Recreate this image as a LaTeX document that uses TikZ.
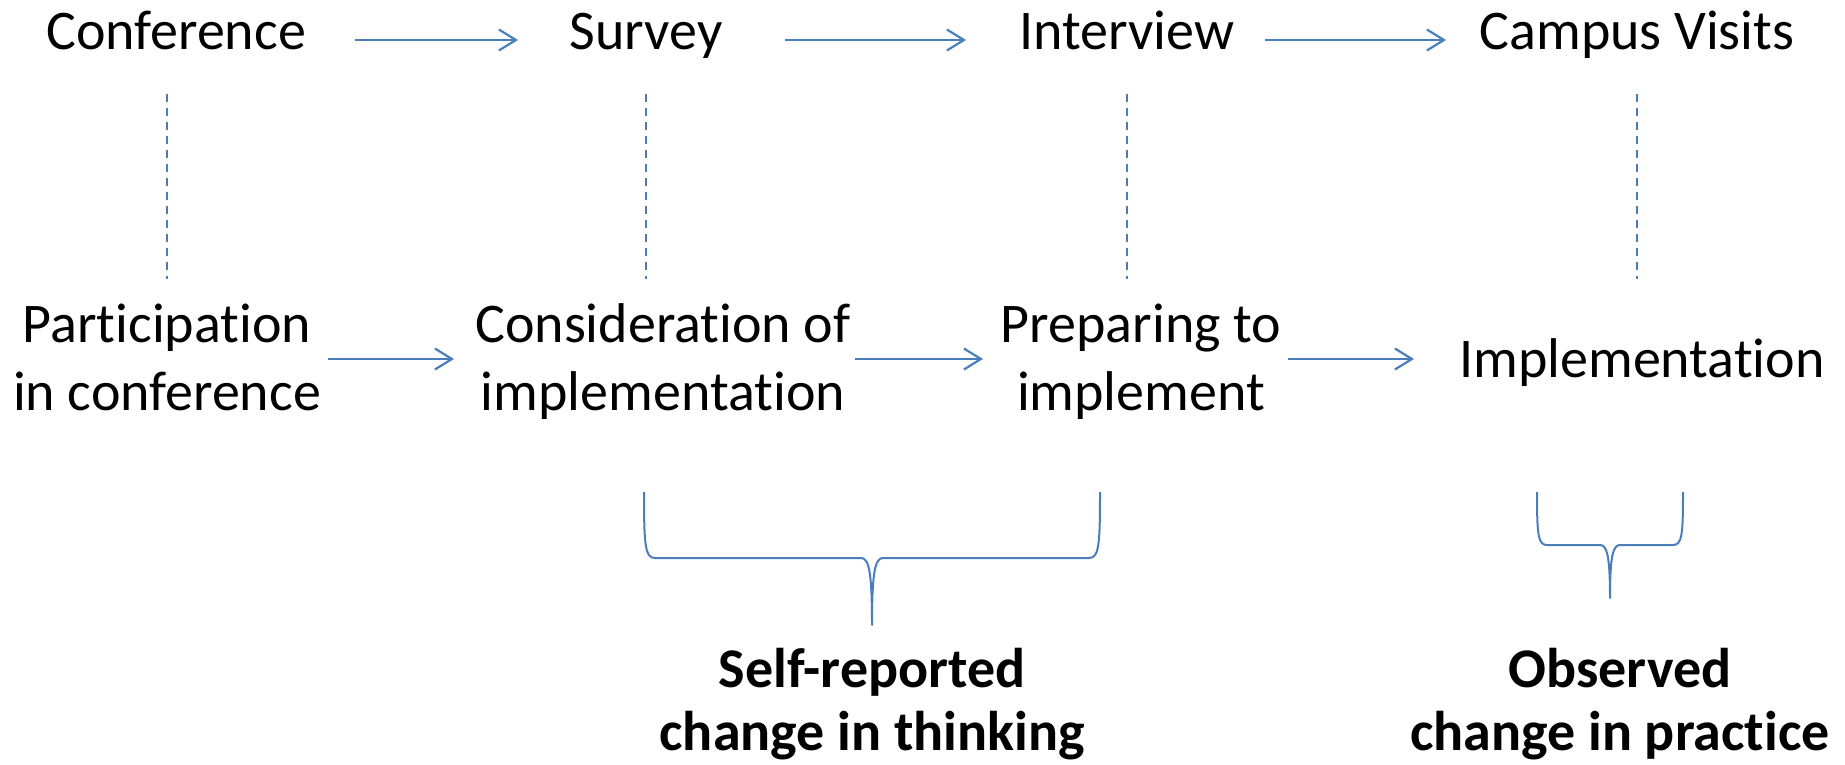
\documentclass[tikz,border=0pt]{standalone}
\usepackage{fontspec}
\setmainfont{Carlito}[Ligatures=CommonOff]
\usetikzlibrary{arrows.meta}
\definecolor{lineblue}{RGB}{74,126,187}
\tikzset{
  lbl/.style={anchor=base, inner sep=0pt, align=center, font=\fontsize{56}{68}\selectfont},
  boldlbl/.style={anchor=base, inner sep=0pt, align=center, font=\fontsize{56}{63}\selectfont\bfseries},
  arr/.style={draw=lineblue, line width=2.2pt, -{Straight Barb[length=17pt,width=21pt,line width=2.2pt]}},
  guide/.style={draw=lineblue, line width=2.2pt, dash pattern=on 8pt off 6pt},
  bracepath/.style={draw=lineblue, line width=2pt, line join=round}
}
\begin{document}
\begin{tikzpicture}[x=1pt, y=-1pt]
\useasboundingbox (0,0) rectangle (1845,765);
% top row
\node[lbl] (conf) at (176,50) {Conference};
\node[lbl] (survey) at (646,50) {Survey};
\node[lbl] (interview) at (1127,50) {Interview};
\node[lbl] (campus) at (1637,50) {Campus Visits};
% bottom row (base = last line)
\node[lbl] (part) at (167,410) {Participation\\in conference};
\node[lbl] (consid) at (663,410) {Consideration of\\implementation};
\node[lbl] (prep) at (1141,410) {Preparing to\\implement};
\node[lbl] (impl) at (1642,377) {Implementation};
% labels
\node[boldlbl] (selfrep) at (872,750) {Self-reported\\change in thinking};
\node[boldlbl] (observed) at (1620,750) {Observed\\change in practice};
% top arrows
\draw[arr] ([xshift=179pt,yshift=10pt]conf.base) -- ([xshift=-128pt,yshift=10pt]survey.base);
\draw[arr] ([xshift=139pt,yshift=10pt]survey.base) -- ([xshift=-161pt,yshift=10pt]interview.base);
\draw[arr] ([xshift=138pt,yshift=10pt]interview.base) -- ([xshift=-191pt,yshift=10pt]campus.base);
% bottom arrows
\draw[arr] ([xshift=161pt,yshift=51pt]part.base) -- ([xshift=-209pt,yshift=51pt]consid.base);
\draw[arr] ([xshift=192pt,yshift=51pt]consid.base) -- ([xshift=-158pt,yshift=51pt]prep.base);
\draw[arr] ([xshift=147pt,yshift=51pt]prep.base) -- ([xshift=-228pt,yshift=18pt]impl.base);
% dashed guides
\draw[guide] ([yshift=-44pt]conf.base -| part.base) -- ([yshift=131pt]part.base);
\draw[guide] ([yshift=-44pt]survey.base) -- ([yshift=131pt]consid.base -| survey.base);
\draw[guide] ([yshift=-44pt]interview.base) -- ([yshift=131pt]prep.base -| interview.base);
\draw[guide] ([yshift=-44pt]campus.base) -- ([yshift=98pt]impl.base -| campus.base);
% brace 1
\coordinate (tip1) at (872,625);
\draw[bracepath] (644,492) .. controls (644,545) and (645,558) .. (655,558)
  -- (861,558) .. controls (869,558) and (872,572) .. (tip1)
  .. controls (872,572) and (875,558) .. (883,558)
  -- (1089,558) .. controls (1099,558) and (1100,545) .. (1100,492);
% brace 2
\coordinate (tip2) at (1610,598);
\draw[bracepath] (1537,492) .. controls (1537,535) and (1538,545) .. (1547,545)
  -- (1600,545) .. controls (1607,545) and (1610,556) .. (tip2)
  .. controls (1610,556) and (1613,545) .. (1620,545)
  -- (1673,545) .. controls (1682,545) and (1683,535) .. (1683,492);
\end{tikzpicture}
\end{document}
